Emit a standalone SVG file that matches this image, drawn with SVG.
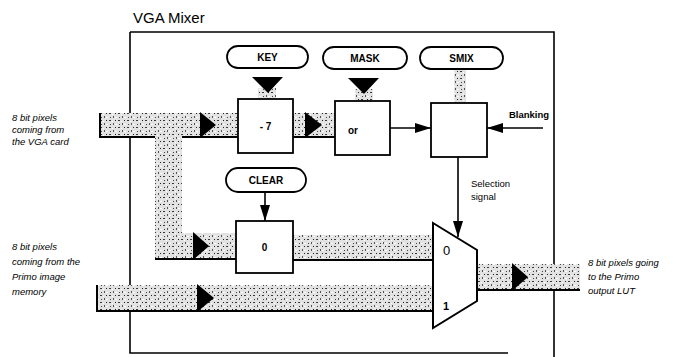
<svg xmlns="http://www.w3.org/2000/svg" width="689" height="357" viewBox="0 0 689 357">
<style>
  .frame{fill:none;stroke:#000;stroke-width:1.6}
  .pill{fill:#fff;stroke:#000;stroke-width:1.8}
  .box{fill:#fff;stroke:#000;stroke-width:1.8}
  .lbl{font-family:"Liberation Sans",Arial,sans-serif;font-size:10px;font-weight:bold;text-anchor:middle;fill:#000}
  .note{font-family:"Liberation Sans",Arial,sans-serif;font-size:9.5px;font-style:italic;fill:#000}
  .small{font-family:"Liberation Sans",Arial,sans-serif;font-size:9.5px;fill:#000}
  .muxd{font-family:"Liberation Sans",Arial,sans-serif;fill:#000}
  .bus{fill:url(#speck)}
  .busedge{stroke:#000;stroke-width:2;fill:none}
  .tri{fill:#000}
  .wire{stroke:#000;stroke-width:1.6;fill:none;marker-end:url(#ah)}
</style>
<defs>
  <pattern id="speck" width="9" height="7" patternUnits="userSpaceOnUse">
    <rect width="9" height="7" fill="#e2e2e2"/>
    <rect x="1" y="1" width="2" height="1" fill="#3a3a3a"/>
    <rect x="5" y="4" width="1" height="2" fill="#555"/>
    <rect x="7" y="1" width="1" height="1" fill="#222"/>
    <rect x="2" y="5" width="1" height="1" fill="#444"/>
    <rect x="4" y="2" width="1" height="1" fill="#fff"/>
    <rect x="7" y="5" width="2" height="1" fill="#fff"/>
  </pattern>
  <marker id="ah" viewBox="0 0 16 10" refX="16" refY="5" markerWidth="16" markerHeight="10" markerUnits="userSpaceOnUse" orient="auto">
    <path d="M0,0 L16,5 L0,10 z" fill="#000"/>
  </marker>
</defs>
<rect width="689" height="357" fill="#fff"/>

<g id="frame">
  <text x="133" y="23" font-family="Liberation Sans, Arial, sans-serif" font-size="15" fill="#000">VGA Mixer</text>
  <path class="frame" d="M130,32 H554 V357"/>
  <path class="frame" d="M130,32 V353 H508"/>
</g>

<g id="connectors">
  <!-- top bus from VGA card -->
  <rect class="bus" x="100" y="113" width="138" height="24"/>
  <path class="busedge" d="M100,113 V137 H155 M182,137 H238"/>
  <polygon class="tri" points="200,112 216,125 200,138"/>
  <!-- vertical branch -->
  <rect class="bus" x="155" y="137" width="27" height="122"/>
  <!-- lower branch to clear box -->
  <rect class="bus" x="155" y="233" width="81" height="26"/>
  <path class="busedge" d="M155,259 H236"/>
  <polygon class="tri" points="193,232 209,246 193,260"/>
  <!-- -7 to or -->
  <rect class="bus" x="293" y="113" width="42" height="24"/>
  <path class="busedge" d="M293,137 H335"/>
  <polygon class="tri" points="305,112 322,125 305,138"/>
  <!-- zero box to mux -->
  <rect class="bus" x="293" y="235" width="140" height="25"/>
  <path class="busedge" d="M293,260 H433"/>
  <!-- primo image memory bus -->
  <rect class="bus" x="97" y="285" width="336" height="26"/>
  <path class="busedge" d="M97,285 V311 H433"/>
  <polygon class="tri" points="197,284 214,298 197,312"/>
  <!-- output bus -->
  <rect class="bus" x="477" y="264" width="103" height="26"/>
  <path class="busedge" d="M477,290 H580"/>
  <polygon class="tri" points="512,263 528,277 512,291"/>
  <!-- KEY / MASK control arrows -->
  <rect class="bus" x="258" y="88" width="18" height="12"/>
  <polygon class="tri" points="252,77 283,77 268,93"/>
  <rect class="bus" x="355" y="89" width="18" height="13"/>
  <polygon class="tri" points="348,78 379,78 364,94"/>
  <!-- SMIX control -->
  <rect class="bus" x="454" y="69" width="12" height="34"/>
  <!-- or to select box -->
  <line class="wire" x1="390" y1="128" x2="431" y2="128"/>
  <!-- blanking -->
  <line class="wire" x1="543" y1="128" x2="487" y2="128"/>
  <!-- clear -->
  <line class="wire" x1="265" y1="192" x2="265" y2="221"/>
  <!-- selection signal -->
  <line class="wire" x1="458" y1="157" x2="458" y2="237"/>
</g>

<g id="key"><rect class="pill" x="227" y="46" width="81" height="22" rx="11"/><text class="lbl" x="267.5" y="61">KEY</text></g>
<g id="mask"><rect class="pill" x="323" y="47" width="84" height="22" rx="11"/><text class="lbl" x="365" y="62">MASK</text></g>
<g id="smix"><rect class="pill" x="420" y="47" width="83" height="22" rx="11"/><text class="lbl" x="461.5" y="62">SMIX</text></g>
<g id="clear"><rect class="pill" x="226" y="168" width="80" height="24" rx="12"/><text class="lbl" x="266" y="184">CLEAR</text></g>

<g id="div7"><rect class="box" x="238" y="99" width="55" height="54"/><text class="lbl" x="265.5" y="130">- 7</text></g>
<g id="or"><rect class="box" x="335" y="101" width="55" height="54"/><text class="lbl" x="353" y="134">or</text></g>
<g id="select"><rect class="box" x="431" y="103" width="56" height="54"/></g>
<g id="zero"><rect class="box" x="236" y="221" width="57" height="52"/><text class="lbl" x="264.5" y="251">0</text></g>
<g id="mux">
  <polygon points="433,223 477,250 477,301 433,328" fill="#fff" stroke="#000" stroke-width="2"/>
  <text class="muxd" x="443" y="255" font-size="13">0</text>
  <text class="muxd" x="443" y="310" font-size="11" font-weight="bold">1</text>
</g>

<g id="labels">
  <text class="note" x="12" y="121">8 bit pixels</text>
  <text class="note" x="12" y="133">coming from</text>
  <text class="note" x="12" y="145">the VGA card</text>
  <text class="note" x="12" y="250">8 bit pixels</text>
  <text class="note" x="12" y="265">coming from the</text>
  <text class="note" x="12" y="280">Primo image</text>
  <text class="note" x="12" y="295">memory</text>
  <text class="note" x="588" y="266">8 bit pixels going</text>
  <text class="note" x="588" y="280">to the Primo</text>
  <text class="note" x="588" y="294">output LUT</text>
  <text class="small" x="471" y="187">Selection</text>
  <text class="small" x="471" y="200">signal</text>
  <text class="small" x="549" y="118" text-anchor="end" font-weight="bold">Blanking</text>
</g>
</svg>
